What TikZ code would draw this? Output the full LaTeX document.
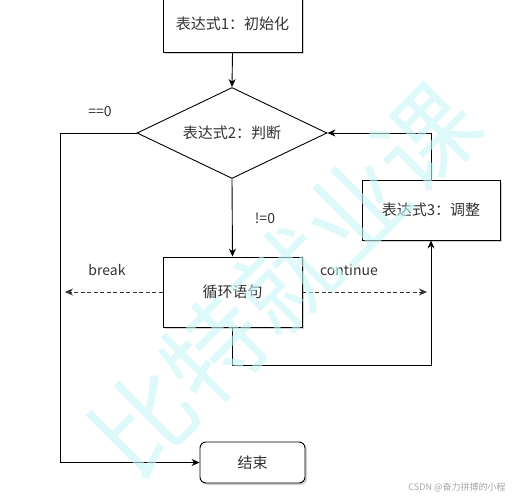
\documentclass[tikz,border=0pt]{standalone}
\usepackage{fontspec}
\setmainfont{Noto Sans CJK SC}
\usetikzlibrary{arrows.meta,shapes.geometric,shadows}
\definecolor{txt}{HTML}{333333}
\definecolor{wm}{HTML}{C8F5F7}
\tikzset{
  proc/.style={draw=black, line width=0.9pt, fill=white, text=txt, font=\fontsize{15}{18}\selectfont, inner sep=0pt,
    drop shadow={shadow xshift=2pt, shadow yshift=-2pt, fill=gray!45, opacity=0.8}},
  cond/.style={draw=black, line width=0.9pt, fill=white, text=txt, shape=diamond, font=\fontsize{15}{18}\selectfont, inner sep=0pt},
  arr/.style={draw=black, line width=0.9pt, -{Stealth[length=8pt,width=7pt]}},
  darr/.style={draw=black!80, line width=0.8pt, dashed, dash pattern=on 4pt off 2.5pt, -{Stealth[length=8pt,width=7pt]}},
  lbl/.style={text=txt, font=\fontsize{14}{16}\selectfont, inner sep=0pt}
}
\begin{document}
\begin{tikzpicture}[x=1pt,y=-1pt]
\useasboundingbox (0,0) rectangle (531,500);
\fill[white] (0,0) rectangle (531,500);
\node[proc, minimum width=139pt, minimum height=57pt] (init) at (232.5,23.5) {表达式1：初始化};
\node[cond, aspect=2.09, minimum width=190pt, minimum height=91pt] (cnd) at (232,133) {表达式2：判断};
\node[proc, minimum width=139pt, minimum height=70pt] (loop) at (232.5,292) {循环语句};
\node[proc, minimum width=138pt, minimum height=60pt] (adj) at (431,210) {表达式3：调整};
\node[proc, rounded corners=6pt, minimum width=105pt, minimum height=41pt] (end) at (252.5,462.5) {结束};

\coordinate (L1) at (60,133);
\coordinate (L2) at (60,462.5);
\coordinate (bk) at (65,292);
\coordinate (ct) at (427,292);
\coordinate (B1) at (232.5,365);
\coordinate (B2) at (431,365);

\draw[arr] (init.south) -- (cnd.north);
\draw[arr] (cnd.west) -- (L1) -- (L2) -- (end.west);
\draw[arr] (cnd.south) -- (loop.north);
\draw[darr] (loop.west) -- (bk);
\draw[darr] (loop.east) -- (ct);
\draw[arr] (loop.south) -- (B1) -- (B2) -- (adj.south);
\draw[arr] (adj.north) |- (cnd.east);

\node[lbl] (l0) at (100,112) {==0};
\node[lbl] (l1) at (265,218) {!=0};
\node[lbl] (l2) at (107,270) {break};
\node[lbl] (l3) at (349,270) {continue};

\node[text=wm, opacity=0.6, rotate=45, font=\fontsize{100}{100}\selectfont, inner sep=0pt] (wmk) at (285,280) {比特就业课};
\node[text=gray!70, font=\fontsize{9}{10}\selectfont, inner sep=0pt] (csdn) at (457,487) {CSDN @奋力拼搏的小程};
\end{tikzpicture}
\end{document}
